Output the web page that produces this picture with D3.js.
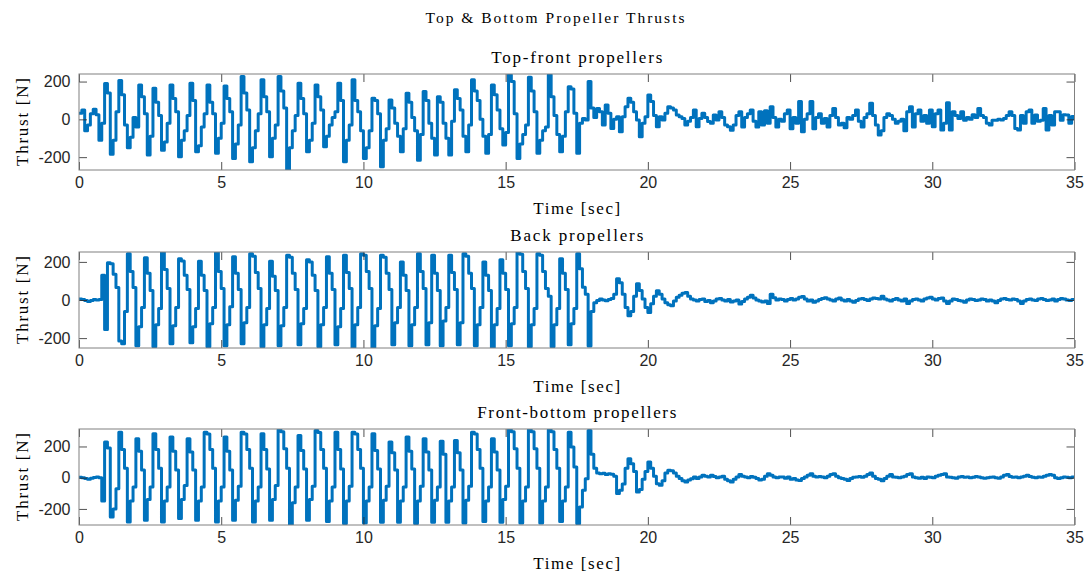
<!DOCTYPE html>
<html>
<head>
	<meta charset="utf-8">
	<title>Top &amp; Bottom Propeller Thrusts</title>
	<script src="https://cdn.jsdelivr.net/npm/d3@7/dist/d3.min.js"></script>
	<style type="text/css">
	body { margin: 0; background: #ffffff; }
	.tick text { font: 16px "Liberation Sans", Arial, sans-serif; fill: #262626; }
	.tick line { stroke: #262626; stroke-width: 0.8; }
	.serif { font-family: "Liberation Serif", "Times New Roman", serif; fill: #000; }
	</style>
</head>
<body>
	<svg></svg>
<script>
	// thrust logs, one value every dt seconds from t = 0 to t = 35
	var dt = 0.1;

	var topFront = [
	32, 50, -60, -30, 30, 53, 25, -110, -20, 190,
	140, -185, -110, 40, 205, 130, -30, -150, -95, 10,
	-40, 182, 120, 30, -189, -90, 165, 90, 20, -163,
	-120, -20, 182, 110, 40, -198, -110, -60, 20, 191,
	100, -172, -140, -40, 30, 182, 90, 30, -180, -100,
	-20, 177, 110, 40, -207, -130, -30, 227, 140, 50,
	-225, -150, -60, 30, 209, 120, 40, -198, -100, -30,
	227, 150, 60, -265, -150, -60, 20, 191, 110, 30,
	-172, -110, -20, 182, 120, 50, -145, -90, -30, 10,
	40, 191, 100, -225, -110, -30, 209, 100, 40, -60,
	-207, -150, -60, 112, 100, 30, -251, -110, -50, 103,
	60, -20, -90, -172, -50, 138, 90, 10, -60, -216,
	-80, 147, 100, -20, -100, -189, 120, 90, -20, -100,
	-189, -10, 156, 110, 50, -90, -172, -30, 209, 150,
	100, 0, -90, -180, -80, 182, 130, 50, -50, -136,
	-70, 235, 200, 30, -207, -130, -80, -30, 223, 150,
	40, -180, -110, -60, -40, 235, 120, 20, -80, -172,
	-90, 40, 173, 160, 32, -180, -20, 5, -4, 200,
	60, 10, 58, 40, -30, 76, 32, -48, 0, 14,
	-65, 14, 67, 112, 90, 40, -4, -92, -21, 14,
	129, 94, 20, -39, 14, -4, 32, 67, 60, 50,
	23, 14, 5, -30, -10, 10, 50, -39, 5, 32,
	10, -12, -21, 23, -4, 40, 10, -30, -39, -57,
	-30, 20, 40, -40, 10, 30, 50, -10, -40, 40,
	-30, 45, -20, 67, 10, -40, 0, -10, 30, 50,
	-50, 10, -20, 94, -65, 0, 30, 94, -50, 10,
	30, -20, 5, -40, 20, 58, 10, -30, -20, -45,
	10, 0, 20, 50, -10, -40, 10, 30, 85, 20,
	-30, -83, -60, 10, 30, 20, 0, -20, -10, 0,
	-60, 40, 67, -40, 30, 50, -10, 20, -20, 49,
	-39, 30, 49, -56, -20, 88, -56, 40, 20, 5,
	40, -5, 10, 0, 25, 10, 58, 20, 10, -21,
	-30, -5, -5, 0, -4, 5, 20, 40, 20, -48,
	-56, 20, -20, 40, 49, -20, 23, -10, -5, 58,
	-56, 20, -30, 40, 40, -5, 25, 23, -20, 15, -5];

	var back = [
	5, 2, -3, -8, -2, 3, 0, 2, 130, -155,
	195, 190, 135, 65, -215, -230, -60, 243, 150, 65,
	-240, -140, -40, 222, 140, 50, -245, -130, -45, 252,
	160, 60, -230, -135, -40, 217, 205, 130, 55, -225,
	-140, -45, 204, 130, 50, -245, -125, -40, 252, 150,
	60, -240, -130, -35, 227, 140, 55, -230, -120, -40,
	243, 230, 145, 60, -245, -130, -45, 204, 125, 50,
	-240, -135, -40, 235, 225, 140, 55, -235, -125, -45,
	211, 200, 130, 50, -245, -130, -40, 227, 140, 55,
	-235, -140, -45, 235, 145, 60, -250, -130, -40, 243,
	235, 150, 60, -250, -135, -45, 235, 225, 140, 55,
	-235, -120, -40, 199, 130, 50, -240, -130, -40, 243,
	150, 60, -235, -120, 235, 140, 50, -240, -110, -40,
	235, 145, 55, -235, -120, 243, 230, 140, 60, -240,
	-130, -40, 199, 130, 50, -250, -130, -45, 211, 140,
	55, -240, -125, -40, 252, 240, 150, 60, -245, -130,
	-45, 243, 235, 150, 60, 20, -245, -130, -45, 217,
	140, 55, -235, -125, -45, 243, 164, 67, 30, -241,
	-60, -15, -2, 5, 0, -4, 3, 8, 30, 111,
	90, 30, -40, -83, -60, 20, 85, 50, 5, -40,
	-65, -20, 20, 49, 30, 5, -15, -25, -30, -5,
	14, 25, 35, 40, 20, 5, 0, -5, 3, 5,
	-8, -3, -15, -5, 5, 8, 0, -5, 3, -10,
	-5, 0, -21, -8, 5, 15, 25, 10, 0, -5,
	-10, -5, -18, 30, 12, 0, 5, 3, -5, 2,
	8, 0, 5, 15, 18, 5, -5, 0, -12, -5,
	3, 8, 12, 5, 0, -5, 5, 10, 0, -5,
	3, -5, -12, -3, 5, 8, 3, -3, 5, 10,
	8, 5, 20, 5, 0, -5, 3, 8, 0, -5,
	5, -18, -5, 3, 5, 0, -5, 5, 10, 14,
	5, 0, 8, 10, -5, -18, -5, 5, 3, -3,
	-5, -12, 0, 5, 3, -3, 0, 5, 3, -5,
	0, -5, -15, -3, 5, 8, 3, 0, 5, 3,
	-5, -18, -5, 3, 5, 0, -3, 5, 8, 3,
	-3, 0, 5, -5, 3, 8, 5, 0, -3, 3, 0];

	var frontBottom = [
	3, 0, -5, -10, -3, 2, 5, 0, -150, 228,
	190, -251, -200, -70, 291, 180, 60, -283, -150, -60,
	249, 170, 50, -272, -140, -60, 281, 180, 60, -283,
	-150, -60, 260, 170, 50, -262, -140, -50, 249, 165,
	50, -272, -150, -60, 291, 280, 180, 60, -283, -150,
	-60, 260, 170, 50, -272, -145, -55, 291, 280, 180,
	60, -283, -150, -60, 281, 180, 55, -272, -140, -50,
	306, 295, 185, 60, -300, -160, -60, 270, 175, 55,
	-272, -140, -55, 302, 290, 180, 60, -280, -150, -60,
	291, 180, 55, -294, -150, -55, 291, 280, 180, 60,
	-290, -150, -60, 281, 175, 55, -285, -145, -55, 228,
	160, 50, -285, -150, -60, 260, 170, 55, -294, -150,
	-55, 249, 165, 50, -285, -145, -60, 234, 150, -285,
	-150, -60, 238, 160, 50, -290, -145, -55, 291, 280,
	180, 60, -280, -150, -60, 249, 165, 50, -285, -140,
	-55, 306, 295, 185, 60, -290, -150, -60, 306, 295,
	185, 60, -290, -150, -60, 306, 295, 180, 60, -280,
	-150, -60, 291, 196, 68, -294, -187, -81, -6, 302,
	150, 60, 30, 25, 28, 20, 26, 22, 10, -102,
	-81, -40, 60, 121, 89, 40, -91, -75, -10, 40,
	100, 60, 10, -38, -49, -20, 30, 47, 45, 30,
	10, -5, -20, -28, -15, -6, 5, -5, 5, 15,
	10, 5, 15, 8, 0, 5, 10, -10, -20, -28,
	-10, 5, 20, 10, 5, 0, 8, 3, -5, -15,
	-10, 10, 26, 15, 5, 0, 5, 5, -3, 5,
	-10, -5, -15, -18, -5, 5, 15, 26, 10, 5,
	8, 5, 0, 10, 20, 26, 10, 0, -5, -10,
	-18, -5, 3, 5, 8, 3, 10, 20, 30, 10,
	-5, -10, -20, -5, 10, 20, 5, 3, 0, 5,
	10, 20, 26, 5, 0, -3, 3, -5, 5, 3,
	0, 10, 15, 20, 26, 5, 3, 0, -3, 5,
	8, 3, 5, 0, 3, 8, 5, 0, -3, 0,
	3, 5, 0, -3, 5, 15, 20, 8, 3, 5,
	0, 5, 10, 15, 8, 3, 0, 5, 3, 10,
	15, 20, 15, 0, -5, 0, 5, 3, 0, 5, 3];

	var xTicks = [0, 5, 10, 15, 20, 25, 30, 35];
	var yTicks = [-200, 0, 200];

	var panels = [
	{title: "Top-front propellers", values: topFront, ylim: [-268, 240], titleLen: 171},
	{title: "Back propellers", values: back, ylim: [-252, 252], titleLen: 133},
	{title: "Front-bottom propellers", values: frontBottom, ylim: [-303, 312], titleLen: 199}];

	var W = 1089, H = 576;
	var left = 79, right = 1074.5, plotH = 96;
	var tops = [74, 252, 429];

	var svg = d3.select("svg")
				.attr("width", W)
				.attr("height", H);

	svg.append("text")
		.attr("class", "serif")
		.attr("x", 555)
		.attr("y", 23)
		.attr("text-anchor", "middle")
		.attr("textLength", 259)
		.attr("lengthAdjust", "spacing")
		.style("font-size", "15.5px")
		.text("Top & Bottom Propeller Thrusts");

	var x = d3.scaleLinear().domain([0, 35]).range([left, right]);

	// plain hyphen for negatives, as in the original figure
	var fmt = function(d) { return String(d); };

	panels.forEach(function(p, k) {
		var top = tops[k];
		var y = d3.scaleLinear().domain(p.ylim).range([top + plotH, top]);

		var g = svg.append("g");

		// clip the trace to the axes box like matlab does
		g.append("clipPath")
			.attr("id", "clip" + k)
			.append("rect")
			.attr("x", left).attr("y", top)
			.attr("width", right - left).attr("height", plotH);

		var line = d3.line()
			.x(function(d, i) { return x(i * dt); })
			.y(function(d) { return y(d); })
			.curve(d3.curveStepAfter);

		g.append("path")
			.datum(p.values)
			.attr("clip-path", "url(#clip" + k + ")")
			.attr("fill", "none")
			.attr("stroke", "#0072BD")
			.attr("stroke-width", 3)
			.attr("stroke-linejoin", "round")
			.attr("d", line);

		// ticks point inwards on all four sides
		g.append("g")
			.attr("transform", "translate(0," + (top + plotH) + ")")
			.call(d3.axisBottom(x).tickValues(xTicks).tickSizeInner(-8).tickSizeOuter(0).tickPadding(7).tickFormat(fmt))
			.call(function(a) { a.select(".domain").remove(); });
		g.append("g")
			.attr("transform", "translate(0," + top + ")")
			.call(d3.axisTop(x).tickValues(xTicks).tickSizeInner(-8).tickSizeOuter(0).tickFormat(""))
			.call(function(a) { a.select(".domain").remove(); });
		g.append("g")
			.attr("transform", "translate(" + left + ",0)")
			.call(d3.axisLeft(y).tickValues(yTicks).tickSizeInner(-8).tickSizeOuter(0).tickPadding(8.5).tickFormat(fmt))
			.call(function(a) { a.select(".domain").remove(); });
		g.append("g")
			.attr("transform", "translate(" + right + ",0)")
			.call(d3.axisRight(y).tickValues(yTicks).tickSizeInner(-8).tickSizeOuter(0).tickFormat(""))
			.call(function(a) { a.select(".domain").remove(); });

		g.append("rect")
			.attr("x", left).attr("y", top)
			.attr("width", right - left).attr("height", plotH)
			.attr("fill", "none")
			.attr("stroke", "#808080")
			.attr("stroke-width", 1);

		g.append("text")
			.attr("class", "serif")
			.attr("x", (left + right) / 2)
			.attr("y", top - 11)
			.attr("text-anchor", "middle")
			.attr("textLength", p.titleLen)
			.attr("lengthAdjust", "spacing")
			.style("font-size", "17px")
			.text(p.title);

		g.append("text")
			.attr("class", "serif")
			.attr("x", (left + right) / 2)
			.attr("y", top + plotH + 44)
			.attr("text-anchor", "middle")
			.attr("textLength", 87)
			.attr("lengthAdjust", "spacing")
			.style("font-size", "17px")
			.text("Time [sec]");

		g.append("text")
			.attr("class", "serif")
			.attr("transform", "translate(22," + (top + plotH / 2) + ") rotate(-90)")
			.attr("dy", "0.35em")
			.attr("text-anchor", "middle")
			.attr("textLength", 88)
			.attr("lengthAdjust", "spacing")
			.style("font-size", "17px")
			.text("Thrust [N]");
	});
</script>
</body>
</html>
